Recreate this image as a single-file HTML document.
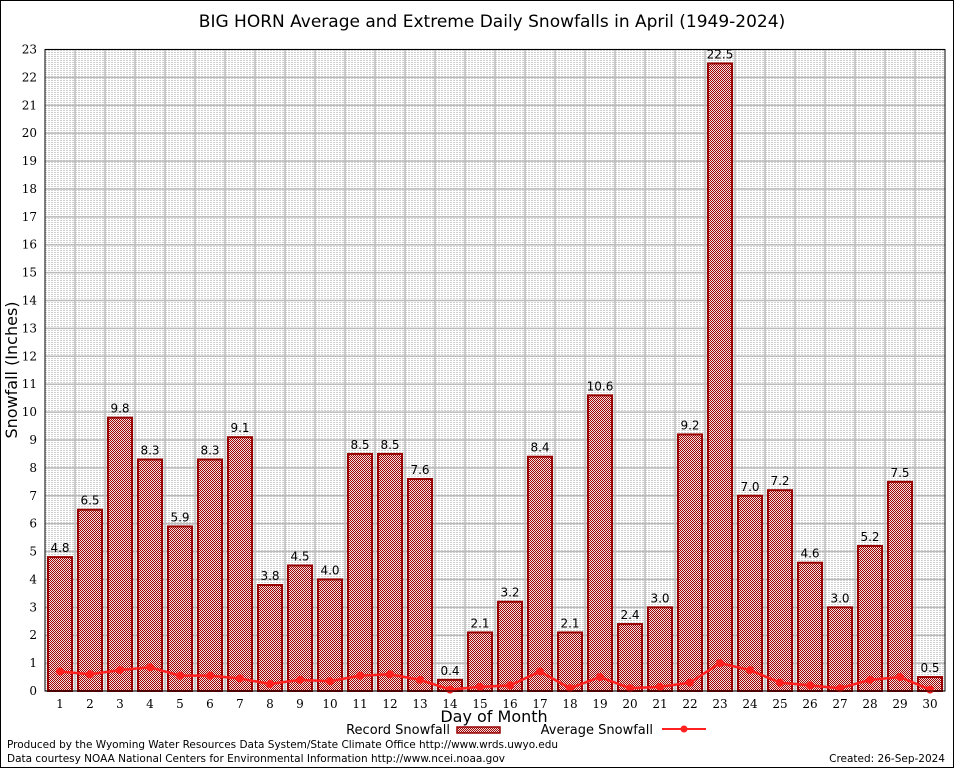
<!DOCTYPE html>
<html><head><meta charset="utf-8"><style>
body{margin:0;background:#fff}
svg{display:block;font-family:"DejaVu Sans","Liberation Sans",sans-serif}
.serif{font-family:"DejaVu Serif","Liberation Serif",serif}
</style></head><body>
<svg id="c" width="954" height="768" viewBox="0 0 954 768">
<defs>
<pattern id="chk" width="2" height="2" patternUnits="userSpaceOnUse">
<rect width="2" height="2" fill="#f0e0e0"/><rect width="1" height="1" fill="#a00000"/><rect x="1" y="1" width="1" height="1" fill="#a00000"/>
</pattern>
<pattern id="dots" width="3" height="2" patternUnits="userSpaceOnUse">
<rect width="2" height="1" fill="#d0d0d0"/>
</pattern>
</defs>
<rect x="0.5" y="0.5" width="953" height="767" fill="#fff" stroke="#000"/>
<text x="492" y="27" font-size="17" text-anchor="middle">BIG HORN Average and Extreme Daily Snowfalls in April (1949-2024)</text>
<g id="plot"></g>
<text transform="translate(17,370) rotate(-90)" font-size="16" text-anchor="middle">Snowfall (Inches)</text>
<text x="494" y="722" font-size="16" text-anchor="middle">Day of Month</text>
<g>
<text x="450" y="734" font-size="13" text-anchor="end">Record Snowfall</text>
<rect x="457" y="727" width="43" height="6" fill="url(#chk)" stroke="#990000" stroke-width="1.5"/>
</g>
<g>
<text x="653" y="734" font-size="13" text-anchor="end">Average Snowfall</text>
<line x1="662" y1="729" x2="706" y2="729" stroke="#ff2020" stroke-width="2"/>
<circle cx="684" cy="729" r="3.5" fill="#ff2020"/>
</g>
<text x="7" y="748" font-size="10.5" textLength="551">Produced by the Wyoming Water Resources Data System/State Climate Office http://www.wrds.uwyo.edu</text>
<text x="7" y="762" font-size="10.5" textLength="498">Data courtesy NOAA National Centers for Environmental Information http://www.ncei.noaa.gov</text>
<text x="945" y="762" font-size="10.5" text-anchor="end">Created: 26-Sep-2024</text>
</svg>
<script>
const days=[1,2,3,4,5,6,7,8,9,10,11,12,13,14,15,16,17,18,19,20,21,22,23,24,25,26,27,28,29,30];
const recordSnow=[4.8,6.5,9.8,8.3,5.9,8.3,9.1,3.8,4.5,4.0,8.5,8.5,7.6,0.4,2.1,3.2,8.4,2.1,10.6,2.4,3.0,9.2,22.5,7.0,7.2,4.6,3.0,5.2,7.5,0.5];
const avgSnow=[0.7,0.6,0.75,0.85,0.55,0.55,0.45,0.25,0.4,0.35,0.55,0.6,0.4,0.05,0.15,0.2,0.7,0.1,0.5,0.1,0.15,0.3,1.0,0.75,0.3,0.2,0.1,0.4,0.5,0.05];
const yTicks=[0,1,2,3,4,5,6,7,8,9,10,11,12,13,14,15,16,17,18,19,20,21,22,23];
const L=45,R=945,T=49.5,B=691,YMAX=23;
const X=d=>L+(d-0.5)*(R-L)/30;
const Y=v=>B-v*(B-T)/YMAX;
const NS='http://www.w3.org/2000/svg';
const g=document.getElementById('plot');
function mk(t,a,p){const e=document.createElementNS(NS,t);for(const k in a)e.setAttribute(k,a[k]);(p||g).appendChild(e);return e;}
mk('rect',{x:L,y:T,width:R-L,height:B-T,fill:'url(#dots)'});
yTicks.forEach(v=>{
 const l=mk('line',{x1:L,x2:R,y1:Y(v),y2:Y(v),stroke:'#bbb','stroke-width':1.5});
 
 
 const t=mk('text',{x:L-8,y:Y(v)+4,'font-size':12,'text-anchor':'end',class:'serif'});
 t.textContent=v;
 
 
});
for(let d=1;d<30;d++){mk('line',{x1:X(d)+15,x2:X(d)+15,y1:T,y2:B,stroke:'#bbb','stroke-width':1.5});}
days.forEach((d,i)=>{
 const v=recordSnow[i];
 const r=mk('rect',{x:X(d)-12,y:Y(v),width:24,height:B-Y(v),fill:'url(#chk)',stroke:'#990000','stroke-width':2});
 
 
 const t=mk('text',{x:X(d),y:Y(v)-5,'font-size':12,'text-anchor':'middle'});
 t.textContent=v.toFixed(1);
 
 
 const x=mk('text',{x:X(d),y:B+17,'font-size':12,'text-anchor':'middle',class:'serif'});
 x.textContent=d;
 
 
});
const pl=mk('polyline',{points:days.map((d,i)=>X(d)+','+Y(avgSnow[i])).join(' '),fill:'none',stroke:'#ff2020','stroke-width':2.5});


days.forEach((d,i)=>{
 const c=mk('circle',{cx:X(d),cy:Y(avgSnow[i]),r:4,fill:'#ff2020'});
 
 
});
mk('rect',{x:L,y:T,width:R-L,height:B-T,fill:'none',stroke:'#000','stroke-width':1});
</script>
</body></html>
